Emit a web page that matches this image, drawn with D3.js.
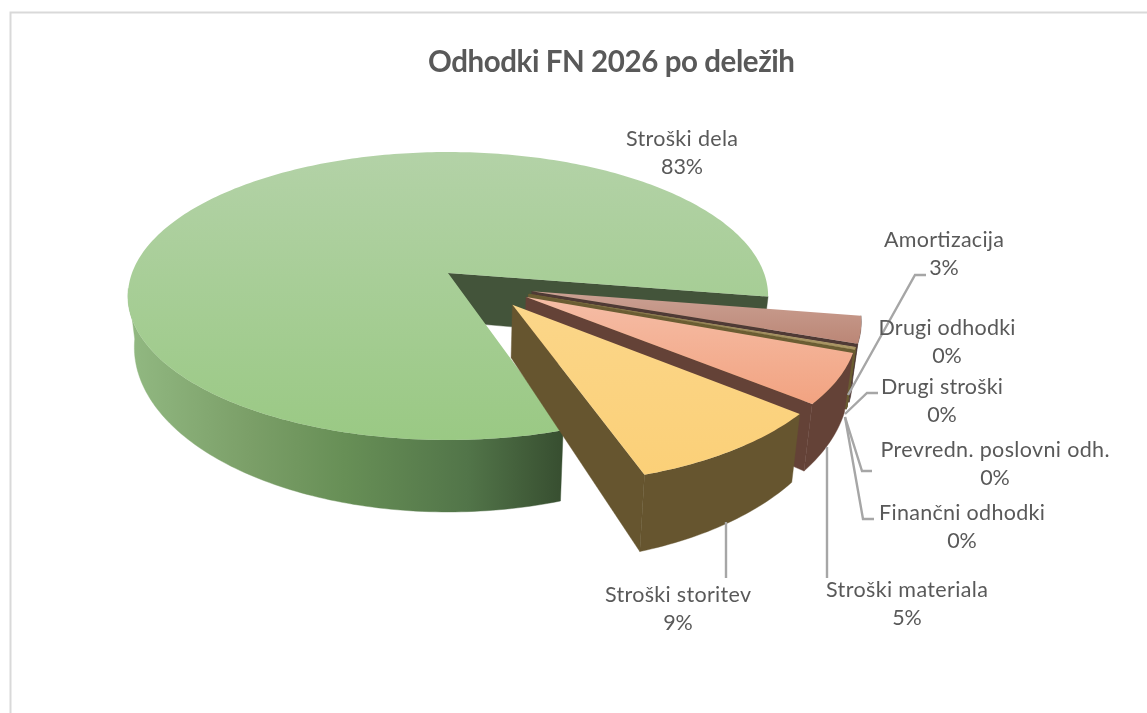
<!DOCTYPE html>
<html><head><meta charset="utf-8">
<script src="https://cdn.jsdelivr.net/npm/d3@7/dist/d3.min.js"></script>
<style>html,body{margin:0;background:#fff}svg{display:block}text{font-family:Lato,"Open Sans",sans-serif;fill:#595959}</style>
</head><body><svg id="c" width="1147" height="713"></svg>
<script>
const categories=["Stroški dela","Amortizacija","Drugi odhodki","Drugi stroški","Prevredn. poslovni odh.","Finančni odhodki","Stroški materiala","Stroški storitev"];
const shares=[82.6,2.9,0.08,0.07,0.07,0.06,5.4,8.8];
const explodeDistance=[0,0.289,0.29,0.29,0.29,0.29,0.292,0.294];
const explodeBearing=[0,116,120.5,120.5,120.5,120.5,124.6,138];
const topColors=[["#b3d2a7","#9ac984"],["#cba193","#bb8676"],["#c9b486","#bda873"],["#c9b486","#bda873"],["#c9b486","#bda873"],["#c9b486","#bda873"],["#f5bda6","#f2a381"],["#fbd689","#fbd078"]];
const wallColors=["#3f5238","#4f3a35","#6b5d33","#6b5d33","#6b5d33","#6b5d33","#644237","#66552f"];
const mainWallStops=[[0,"#92b982"],[0.28,"#7b9f68"],[0.5,"#678f56"],[0.78,"#527549"],[1,"#374e30"]];

const svg=d3.select("#c"),W=1147,H=713;
const rad=d=>d*Math.PI/180;
const ox=448,oy=273,A=140.3,B=316,P=0.1597,Q=0.02,D0=49.3,D1=16;
function project(u,v,h){
  const w=1+P*v+Q*h;
  return [ox+B*u/w, oy+(-A*v+h*(D0-D1*v))/w];
}
const pie=d3.pie().sort(null).startAngle(rad(162)).endAngle(rad(522));
const arcs=pie(shares);
const slices=arcs.map((a,i)=>{
  const e=explodeDistance[i],b=rad(explodeBearing[i]);
  return {i,a0:a.startAngle,a1:a.endAngle,cu:e*Math.sin(b),cv:e*Math.cos(b)};
});
function pt(s,t,r,h){return project(s.cu+r*Math.sin(t),s.cv+r*Math.cos(t),h);}
const line=d3.line();
const defs=svg.append("defs");
function grad(id,horizontal,x1,x2,stops){
  const g=defs.append("linearGradient").attr("id",id).attr("gradientUnits","userSpaceOnUse");
  if(horizontal)g.attr("x1",x1).attr("x2",x2).attr("y1",0).attr("y2",0);
  else g.attr("x1",0).attr("x2",0).attr("y1",x1).attr("y2",x2);
  stops.forEach(s=>g.append("stop").attr("offset",s[0]).attr("stop-color",s[1]));
}
grad("mw",true,127,563,mainWallStops);

const root=svg.append("g").style("filter","blur(0.5px)");
root.append("path").attr("d",`M1147 12.5H10.5V713`).attr("fill","none").attr("stroke","#d9d9d9").attr("stroke-width",2);

slices.forEach(s=>{
  const n=Math.max(4,Math.ceil((s.a1-s.a0)/rad(1)));
  const ts=d3.range(n+1).map(k=>s.a0+(s.a1-s.a0)*k/n);
  const g=root.append("g").attr("class","slice");
  // cut face at the clockwise end of the slice
  const cut=[pt(s,s.a1,0,0),pt(s,s.a1,1,0),pt(s,s.a1,1,1),pt(s,s.a1,0,1)];
  const cutColor=s.i===0?"#43543a":wallColors[s.i];
  g.append("path").attr("d",line(cut)+"Z").attr("fill",cutColor).attr("stroke",cutColor).attr("stroke-width",0.4);
  // outer wall: first run of the arc that faces the viewer
  const first=ts.findIndex(t=>Math.cos(t)<-0.1);
  let run=[];
  if(first>=0){for(let k=first;k<ts.length&&Math.cos(ts[k])<-0.1;k++)run.push(ts[k]);}
  if(run.length>1){
    const wall=run.map(t=>pt(s,t,1,0)).concat(run.slice().reverse().map(t=>pt(s,t,1,1)));
    const wc=s.i===0?"url(#mw)":wallColors[s.i];
    g.append("path").attr("d",line(wall)+"Z").attr("fill",wc).attr("stroke",wc).attr("stroke-width",0.4);
  }
  // top face
  const top=[pt(s,s.a0,0,0)].concat(ts.map(t=>pt(s,t,1,0)));
  const ys=top.map(p=>p[1]);
  grad("t"+s.i,false,d3.min(ys),d3.max(ys),[[0,topColors[s.i][0]],[1,topColors[s.i][1]]]);
  g.append("path").attr("d",line(top)+"Z").attr("fill",`url(#t${s.i})`);
});

const leaderPaths=[
 [[926,275],[915,275],[848,395]],
 [[878,393],[867,393],[845,414]],
 [[872,471],[862,471],[845,417]],
 [[874,519],[863,519],[845,417]],
 [[827,578],[827,447]],
 [[726,578],[726,522]]
];
root.append("g").selectAll("path").data(leaderPaths).join("path")
  .attr("d",d=>line(d)).attr("fill","none").attr("stroke","#a6a6a6").attr("stroke-width",2.4);

root.append("text").attr("x",611.5).attr("y",72).attr("text-anchor","middle")
  .attr("font-size",29.5).attr("font-weight",700).attr("textLength",367).attr("lengthAdjust","spacing")
  .text("Odhodki FN 2026 po deležih");
const labelAnchors=[[682,146,112],[944,247,120],[947,335,137],[942,394,122],[995,457,229],[962,520,166],[907,597,162],[678,602,146]];
const pct=d3.format(".0%"),total=d3.sum(shares);
const lab=root.append("g").selectAll("g").data(categories).join("g");
lab.append("text").attr("x",(d,i)=>labelAnchors[i][0]).attr("y",(d,i)=>labelAnchors[i][1])
  .attr("text-anchor","middle").attr("font-size",21.5)
  .attr("textLength",(d,i)=>labelAnchors[i][2]).attr("lengthAdjust","spacing").text(d=>d);
lab.append("text").attr("x",(d,i)=>labelAnchors[i][0]).attr("y",(d,i)=>labelAnchors[i][1]+28)
  .attr("text-anchor","middle").attr("font-size",21.5)
  .text((d,i)=>pct(shares[i]/total));
</script></body></html>
